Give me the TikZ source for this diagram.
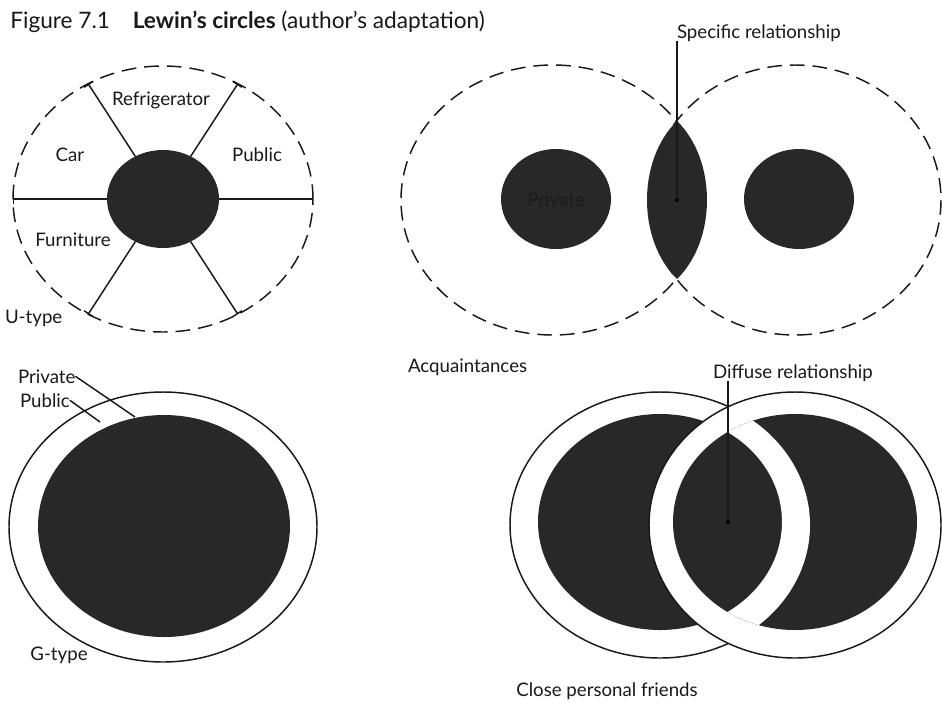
\documentclass[tikz,border=0pt]{standalone}
\usepackage{fontspec}
\setmainfont{Lato}
\usetikzlibrary{shapes.geometric,arrows.meta}
\definecolor{dk}{RGB}{40,40,40}
\definecolor{ink}{RGB}{25,25,25}
\definecolor{hid}{RGB}{27,27,27}
\begin{document}
\begin{tikzpicture}[x=0.75pt,y=-0.75pt,
  lbl/.style={font=\fontsize{14}{16}\selectfont, text=ink, inner sep=0pt, outer sep=0pt},
  dashring/.style={ellipse, draw=ink, line width=1.1pt, dash pattern=on 11pt off 6pt, inner sep=0pt, outer sep=0pt},
  dashline/.style={draw=ink, line width=1.1pt, dash pattern=on 11pt off 6pt},
  core/.style={ellipse, fill=dk, inner sep=0pt, outer sep=0pt},
  ring/.style={ellipse, draw=ink, fill=white, line width=1.1pt, inner sep=0pt, outer sep=0pt},
  ringline/.style={draw=ink, fill=white, line width=1.1pt},
  ln/.style={draw=ink, line width=1.1pt},
  spoke/.style={ln, -{Bar[width=8pt]}},
  dot/.style={fill=black}
]
\useasboundingbox (0,0) rectangle (942,704);
\fill[white] (0,0) rectangle (942,704);

% title
\node[anchor=base west, font=\fontsize{17}{19}\selectfont, text=ink, inner sep=0pt] (title) at (10,28)
  {Figure 7.1\quad\textbf{Lewin’s circles} (author’s adaptation)};

% ---- U-type ----
\node[dashring, minimum width=225pt, minimum height=199.5pt] (udash) at (163,199) {};
\node[core, minimum width=84pt, minimum height=73.5pt] (ucore) at (163,199) {};
\foreach \a in {0,57,123,180,237,303} \draw[spoke] (ucore.\a) -- (udash.\a);
\node[lbl] (refr) at (161,100) {Refrigerator};
\node[lbl] (car) at (70,155) {Car};
\node[lbl] (pub) at (257,155) {Public};
\node[lbl] (furn) at (73,240) {Furniture};
\node[lbl, anchor=west] (utype) at (5,318) {U-type};

% ---- Acquaintances ----
\draw[dashline] (553,200) ellipse [x radius=152, y radius=135];
\draw[dashline] (795,200) ellipse [x radius=146, y radius=135];
\node[core, minimum width=82.5pt, minimum height=75pt] (apl) at (556,199) {};
\node[core, minimum width=82.5pt, minimum height=75pt] (apr) at (799,199) {};
\node[lbl, text=hid] (aptxt) at (556,200) {Private};
\coordinate (lt) at (677,121);
\coordinate (lb) at (677,279);
\coordinate (lc) at (677,200);
\fill[dk] (lt) .. controls (717,160) and (717,240) .. (lb) .. controls (637,240) and (637,160) .. (lt);
\node[lbl, anchor=base west] (spec) at (677,38) {Specific relationship};
\draw[ln] (spec.south west) -- (lc);
\fill[dot] (lc) circle [radius=2];
\node[lbl, anchor=base west] (acq) at (408,372) {Acquaintances};

% ---- G-type ----
\node[ring, minimum width=231pt, minimum height=202.5pt] (gout) at (163,527) {};
\node[core, minimum width=189pt, minimum height=166.5pt] (gin) at (164,526) {};
\node[lbl, anchor=base west] (gpriv) at (18,383) {Private};
\node[lbl, anchor=base west] (gpub) at (20,407) {Public};
\coordinate (gp1) at (135,417);
\coordinate (gp2) at (100,422);
\draw[ln] (gpriv.east) -- (gp1);
\draw[ln] (gpub.east) -- (gp2);
\node[lbl] (gtype) at (59,655) {G-type};

% ---- Close personal friends ----
\filldraw[ringline] (660,525) ellipse [x radius=150, y radius=133];
\fill[dk] (660,522) ellipse [x radius=122, y radius=108];
\filldraw[ringline] (795,525) ellipse [x radius=146, y radius=133];
\fill[dk] (795,522) ellipse [x radius=122, y radius=108];
\begin{scope}
  \clip (795,522) ellipse [x radius=122, y radius=108];
  \fill[white, even odd rule] (660,525) ellipse [x radius=150, y radius=133]
                              (660,522) ellipse [x radius=122, y radius=108];
\end{scope}
\coordinate (dc) at (728,522);
\node[lbl, anchor=base west] (diff) at (713,378) {Diffuse relationship};
\draw[ln] (diff.south -| dc) -- (dc);
\fill[dot] (dc) circle [radius=2];
\node[lbl, anchor=base] (close) at (607,696) {Close personal friends};
\end{tikzpicture}
\end{document}
